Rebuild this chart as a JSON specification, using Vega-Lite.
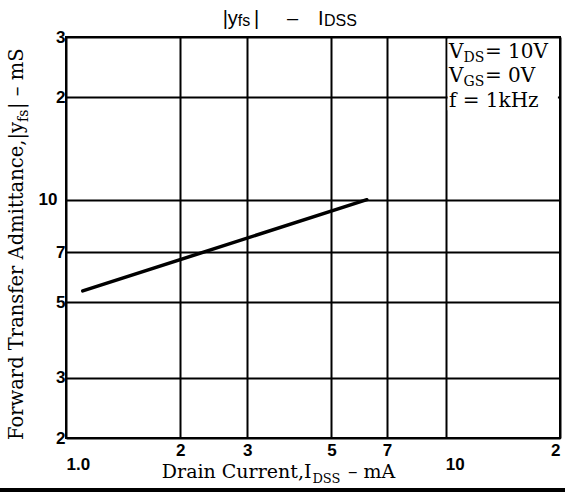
{
  "$schema": "https://vega.github.io/schema/vega-lite/v6.json",
  "width": 494,
  "height": 401,
  "autosize": {"type": "none"},
  "padding": {"left": 66, "top": 37, "right": 5, "bottom": 57},
  "background": "white",
  "config": {
    "view": {"stroke": "black", "strokeWidth": 2},
    "axis": {"gridColor": "black", "gridWidth": 2, "gridOpacity": 1, "ticks": false, "domain": false, "title": null, "labelColor": "black", "labelFont": "Liberation Sans", "labelFontWeight": "bold", "labelFontSize": 17, "labelOverlap": false}
  },
  "datasets": {
    "curve": [{"I": 1.107, "Y": 5.4}, {"I": 6.2, "Y": 10}],
    "cover": [{"I": 10.12, "I2": 19.75, "Y": 18.3, "Y2": 29.6}],
    "frame": [{"I": 0.67, "I2": 20.7, "Y": 1.408}],
    "boxMain": [{"t": "V", "I": 10.2, "Y": 26.0}, {"t": "V", "I": 10.2, "Y": 22.1}, {"t": "f = 1kHz", "I": 10.2, "Y": 18.7}],
    "boxSub": [{"t": "DS", "I": 10.2, "Y": 26.0}, {"t": "GS", "I": 10.2, "Y": 22.1}],
    "boxRest": [{"t": "= 10V", "I": 10.2, "Y": 26.0}, {"t": "= 0V", "I": 10.2, "Y": 22.1}],
    "titleMain": [{"t": "|y", "I": 2.586, "Y": 32.6}, {"t": "|", "I": 3.127, "Y": 32.6}, {"t": "–", "I": 3.82, "Y": 32.6}, {"t": "I", "I": 4.61, "Y": 32.6}],
    "titleSub": [{"t": "fs", "I": 2.835, "Y": 32.6}, {"t": "DSS", "I": 4.78, "Y": 32.6}],
    "xTitleMain": [{"t": "Drain Current,I", "I": 4.43, "Y": 1.526}],
    "xTitleSub": [{"t": "DSS", "I": 4.43, "Y": 1.526}],
    "xTitleRest": [{"t": "– mA", "I": 5.53, "Y": 1.526}],
    "yTitleMain": [{"t": "Forward Transfer Admittance,|y", "I": 0.77, "Y": 16.9}],
    "yTitleSub": [{"t": "fs", "I": 0.77, "Y": 16.9}],
    "yTitleRest": [{"t": "| – mS", "I": 0.77, "Y": 18.44}]
  },
  "encoding": {
    "x": {
      "field": "I", "type": "quantitative",
      "scale": {"type": "log", "domain": [1, 20], "nice": false},
      "axis": {
        "values": [1, 2, 3, 5, 7, 10, 20],
        "grid": true,
        "labelExpr": "datum.value == 1 ? ['', '1.0'] : datum.value == 10 ? ['', '10'] : datum.value == 20 ? '2' : datum.value + ''",
        "labelLineHeight": 14,
        "labelPadding": 4,
        "labelBaseline": "top",
        "labelFlush": true,
        "labelOffset": {"condition": {"test": "datum.value == 10", "value": 9}, "value": 0}
      }
    },
    "y": {
      "field": "Y", "type": "quantitative",
      "scale": {"type": "log", "domain": [2, 30], "nice": false},
      "axis": {
        "values": [2, 3, 5, 7, 10, 20, 30],
        "grid": true,
        "labelExpr": "datum.value == 20 ? '2' : datum.value == 30 ? '3' : datum.value + ''",
        "labelPadding": {"condition": {"test": "datum.value == 10", "value": 9}, "value": 1},
        "labelFlush": false,
        "labelBaseline": "middle"
      }
    }
  },
  "layer": [
    {"data": {"name": "cover"}, "mark": {"type": "rect", "color": "white"}, "encoding": {"x2": {"field": "I2"}, "y2": {"field": "Y2"}}},
    {"data": {"name": "curve"}, "mark": {"type": "line", "color": "black", "strokeWidth": 3.5, "strokeCap": "round"}},
    {"data": {"name": "frame"}, "mark": {"type": "rule", "color": "black", "strokeWidth": 4}, "encoding": {"x2": {"field": "I2"}}},
    {"data": {"name": "boxMain"}, "mark": {"type": "text", "align": "left", "baseline": "alphabetic", "font": "DejaVu Serif", "fontSize": 20, "color": "black"}, "encoding": {"text": {"field": "t"}}},
    {"data": {"name": "boxSub"}, "mark": {"type": "text", "align": "left", "baseline": "alphabetic", "font": "DejaVu Serif", "fontSize": 14, "dx": 14.5, "dy": 4, "color": "black"}, "encoding": {"text": {"field": "t"}}},
    {"data": {"name": "boxRest"}, "mark": {"type": "text", "align": "left", "baseline": "alphabetic", "font": "DejaVu Serif", "fontSize": 20, "dx": 36, "color": "black"}, "encoding": {"text": {"field": "t"}}},
    {"data": {"name": "titleMain"}, "mark": {"type": "text", "align": "left", "baseline": "alphabetic", "font": "Liberation Sans", "fontSize": 20, "color": "black"}, "encoding": {"text": {"field": "t"}}},
    {"data": {"name": "titleSub"}, "mark": {"type": "text", "align": "left", "baseline": "alphabetic", "font": "Liberation Sans", "fontSize": 16, "dy": 1, "color": "black"}, "encoding": {"text": {"field": "t"}}},
    {"data": {"name": "xTitleMain"}, "mark": {"type": "text", "align": "right", "baseline": "alphabetic", "font": "DejaVu Serif", "fontSize": 19, "color": "black"}, "encoding": {"text": {"field": "t"}}},
    {"data": {"name": "xTitleSub"}, "mark": {"type": "text", "align": "left", "baseline": "alphabetic", "font": "DejaVu Serif", "fontSize": 13, "dx": 1, "dy": 5, "color": "black"}, "encoding": {"text": {"field": "t"}}},
    {"data": {"name": "xTitleRest"}, "mark": {"type": "text", "align": "left", "baseline": "alphabetic", "font": "DejaVu Serif", "fontSize": 19, "color": "black"}, "encoding": {"text": {"field": "t"}}},
    {"data": {"name": "yTitleMain"}, "mark": {"type": "text", "align": "right", "baseline": "alphabetic", "angle": 270, "font": "DejaVu Serif", "fontSize": 19.5, "color": "black"}, "encoding": {"text": {"field": "t"}}},
    {"data": {"name": "yTitleSub"}, "mark": {"type": "text", "align": "left", "baseline": "alphabetic", "angle": 270, "font": "DejaVu Serif", "fontSize": 14, "dy": 5, "color": "black"}, "encoding": {"text": {"field": "t"}}},
    {"data": {"name": "yTitleRest"}, "mark": {"type": "text", "align": "left", "baseline": "alphabetic", "angle": 270, "font": "DejaVu Serif", "fontSize": 19.5, "color": "black"}, "encoding": {"text": {"field": "t"}}}
  ]
}
